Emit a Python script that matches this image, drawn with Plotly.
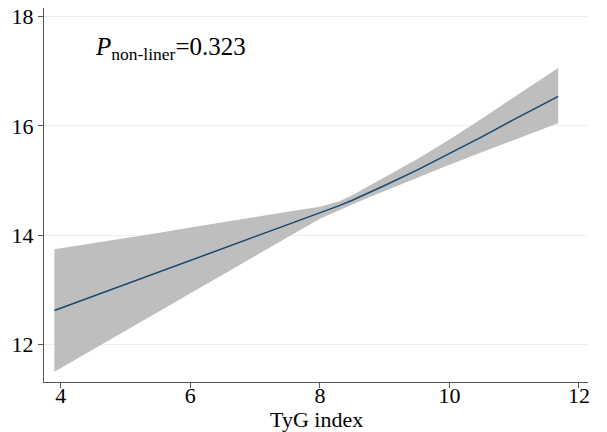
import plotly.graph_objects as go

tyg = [3.9, 4.5, 5.0, 5.5, 6.0, 6.5, 7.0, 7.5, 8.0, 8.3, 8.5, 8.77, 9.0, 9.5, 10.0, 10.5, 11.0, 11.68]
estimate = [12.62, 12.88, 13.10, 13.32, 13.54, 13.76, 13.97, 14.19, 14.41, 14.54, 14.64, 14.78, 14.91, 15.19, 15.49, 15.80, 16.12, 16.54]
upper = [13.74, 13.85, 13.95, 14.04, 14.14, 14.23, 14.33, 14.43, 14.52, 14.62, 14.73, 14.91, 15.06, 15.39, 15.75, 16.13, 16.53, 17.06]
lower = [11.50, 11.91, 12.25, 12.59, 12.93, 13.27, 13.62, 13.96, 14.30, 14.46, 14.56, 14.70, 14.82, 15.05, 15.29, 15.52, 15.75, 16.05]
x_ticks = [4, 6, 8, 10, 12]
y_ticks = [12, 14, 16, 18]
x_title = "TyG index"
annotation_text = "<i>P</i><sub>non-liner</sub>=0.323"

font_family = "Liberation Serif, Times New Roman, serif"

fig = go.Figure()
fig.add_trace(go.Scatter(
    x=tyg + tyg[::-1], y=upper + lower[::-1],
    fill="toself", fillcolor="#bebebe", line=dict(width=0),
    mode="lines", hoverinfo="skip", showlegend=False))
fig.add_trace(go.Scatter(
    x=tyg, y=estimate, mode="lines",
    line=dict(color="#1a476f", width=1.5), showlegend=False))

fig.add_annotation(x=0.09, y=17.42, xref="paper", yref="y", text=annotation_text,
                   showarrow=False, xanchor="left", yanchor="middle",
                   font=dict(family=font_family, size=25, color="black"))
fig.add_annotation(x=0.5, y=0, xref="paper", yref="paper", text=x_title,
                   showarrow=False, xanchor="center", yanchor="middle", yshift=-37,
                   font=dict(family=font_family, size=22, color="black"))

# page body has an 8px margin, so the figure is drawn at (8, 8)
fig.update_layout(
    width=599, height=424,
    margin=dict(l=36, r=19, t=0, b=50),
    paper_bgcolor="white", plot_bgcolor="white",
    font=dict(family=font_family, size=22, color="black"),
)
fig.update_xaxes(
    range=[3.74, 12.14], tickvals=x_ticks, ticks="outside", ticklen=5,
    tickcolor="#555555", showline=True, linecolor="#555555", linewidth=1.2,
    showgrid=False, zeroline=False, automargin=False,
    ticklabelstandoff=-12, ticklabeloverflow="allow",
    tickfont=dict(size=22))
fig.update_yaxes(
    range=[11.31, 18.16], tickvals=y_ticks, ticks="outside", ticklen=5,
    tickcolor="#555555", showline=True, linecolor="#555555", linewidth=1.2,
    showgrid=True, gridcolor="#eaf0f0", gridwidth=1, zeroline=False,
    automargin=False, ticklabeloverflow="allow",
    tickfont=dict(size=22))

fig.write_html("out.html")
